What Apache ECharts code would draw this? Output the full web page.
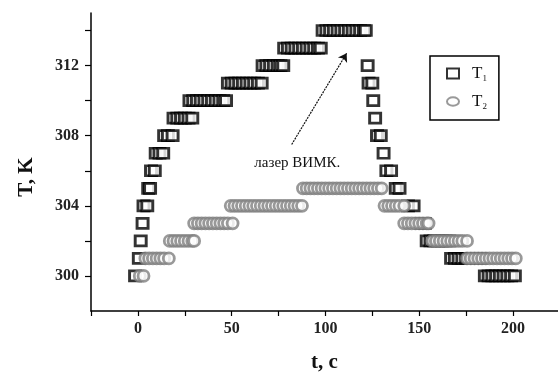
<!DOCTYPE html>
<html>
<head>
<meta charset="utf-8">
<script src="https://cdn.jsdelivr.net/npm/echarts@6/dist/echarts.min.js"></script>
<style>html,body{margin:0;background:#fff}#chart{width:558px;height:378px}</style>
</head>
<body>
<div id="chart"></div>
<script>
// T1: time, s / temperature, K
const t1Time = [-1.5, 0.5, 1.5, 2.5, 3, 5, 5.5, 6.5, 7, 9, 9.5, 11.5, 13.5, 14, 16, 18.5,
  19, 21, 23, 25, 27, 29,
  27.5, 29.5, 31.5, 33.5, 35.5, 37.5, 39.5, 41.5, 43.5, 45.5, 47,
  48, 50, 52, 54, 56, 58, 60, 62, 64, 66,
  66.5, 68.5, 70.5, 72.5, 74.5, 76, 77.5,
  78, 80, 82, 84, 86, 88, 90, 92, 94, 96, 97.5,
  98.5, 100.5, 102.5, 104.5, 106.5, 108.5, 110.5, 112.5, 114.5, 116.5, 118.5, 120.5, 121.5,
  122.5, 123, 125, 125.5, 126.5, 127.5, 129.5, 131, 132.5, 135, 137.5, 139.5, 144, 147, 151, 153,
  154, 156, 158, 160, 162, 164, 166,
  167, 169, 171, 173, 175, 177, 179, 181, 183,
  185, 187, 189, 191, 193, 195, 197, 199, 201];
const t1Temp = [300, 301, 302, 303, 304, 304, 305, 305, 306, 306, 307, 307, 307, 308, 308, 308,
  309, 309, 309, 309, 309, 309,
  310, 310, 310, 310, 310, 310, 310, 310, 310, 310, 310,
  311, 311, 311, 311, 311, 311, 311, 311, 311, 311,
  312, 312, 312, 312, 312, 312, 312,
  313, 313, 313, 313, 313, 313, 313, 313, 313, 313, 313,
  314, 314, 314, 314, 314, 314, 314, 314, 314, 314, 314, 314, 314,
  312, 311, 311, 310, 309, 308, 308, 307, 306, 306, 305, 305, 304, 304, 303, 303,
  302, 302, 302, 302, 302, 302, 302,
  301, 301, 301, 301, 301, 301, 301, 301, 301,
  300, 300, 300, 300, 300, 300, 300, 300, 300];

// T2
const t2Time = [1, 3,
  4, 6, 8, 10, 12, 14, 16.5,
  17, 19, 21, 23, 25, 27, 29, 30,
  30, 32, 34, 36, 38, 40, 42, 44, 46, 48, 50.5,
  49.5, 51.5, 53.5, 55.5, 57.5, 59.5, 61.5, 63.5, 65.5, 67.5, 69.5, 71.5, 73.5, 75.5, 77.5, 79.5, 81.5, 83.5, 85.5, 87.5,
  88, 90, 92, 94, 96, 98, 100, 102, 104, 106, 108, 110, 112, 114, 116, 118, 120, 122, 124, 126, 128, 130,
  131.5, 133.5, 135.5, 137.5, 139.5, 142,
  142, 144, 146, 148, 150, 152, 154, 155,
  157, 159, 161, 163, 165, 167, 169, 171, 173, 175.5,
  175.5, 177.5, 179.5, 181.5, 183.5, 185.5, 187.5, 189.5, 191.5, 193.5, 195.5, 197.5, 199.5, 201.5];
const t2Temp = [300, 300,
  301, 301, 301, 301, 301, 301, 301,
  302, 302, 302, 302, 302, 302, 302, 302,
  303, 303, 303, 303, 303, 303, 303, 303, 303, 303, 303,
  304, 304, 304, 304, 304, 304, 304, 304, 304, 304, 304, 304, 304, 304, 304, 304, 304, 304, 304, 304,
  305, 305, 305, 305, 305, 305, 305, 305, 305, 305, 305, 305, 305, 305, 305, 305, 305, 305, 305, 305, 305, 305,
  304, 304, 304, 304, 304, 304,
  303, 303, 303, 303, 303, 303, 303, 303,
  302, 302, 302, 302, 302, 302, 302, 302, 302, 302,
  301, 301, 301, 301, 301, 301, 301, 301, 301, 301, 301, 301, 301, 301];

const xTicks = [-25, 0, 25, 50, 75, 100, 125, 150, 175, 200];
const xLabels = [0, 50, 100, 150, 200];
const yTicks = [300, 302, 304, 306, 308, 310, 312, 314];
const yLabels = [300, 304, 308, 312];

const serif = 'Liberation Serif';
const pairs = (xs, ys) => xs.map((x, i) => [x, ys[i]]);

const chart = echarts.init(document.getElementById('chart'));
chart.setOption({
  animation: false,
  backgroundColor: '#fff',
  grid: { left: 91, right: 0, top: 13, bottom: 61 },
  xAxis: {
    type: 'value', min: -25, max: 224,
    axisLine: { onZero: false, lineStyle: { color: '#000', width: 1.5 } },
    axisTick: { customValues: xTicks, length: 5, lineStyle: { color: '#000', width: 1.2 } },
    axisLabel: { customValues: xLabels, margin: 10, fontFamily: serif, fontSize: 16, fontWeight: 'bold', color: '#222' },
    splitLine: { show: false },
    name: 't, c', nameLocation: 'middle', nameGap: 41,
    nameTextStyle: { fontFamily: serif, fontSize: 21, fontWeight: 'bold', color: '#111' },
  },
  yAxis: {
    type: 'value', min: 298, max: 315,
    axisLine: { show: true, onZero: false, lineStyle: { color: '#000', width: 1.5 } },
    axisTick: { show: true, customValues: yTicks, length: 6, lineStyle: { color: '#000', width: 1.2 } },
    axisLabel: { customValues: yLabels, margin: 12, fontFamily: serif, fontSize: 16, fontWeight: 'bold', color: '#222' },
    splitLine: { show: false },
    name: 'T, K', nameLocation: 'middle', nameGap: 54,
    nameTextStyle: { fontFamily: serif, fontSize: 21, fontWeight: 'bold', color: '#111', padding: [0, 30, 0, 0] },
  },
  legend: {
    orient: 'vertical', left: 430, top: 56,
    padding: [9, 12, 9, 16], borderColor: '#000', borderWidth: 1.5, borderRadius: 0,
    itemWidth: 12, itemHeight: 10, itemGap: 10,
    data: [
      { name: 'T1', icon: 'rect' },
      { name: 'T2', icon: 'path://M0,5a7,5 0 1,0 14,0a7,5 0 1,0 -14,0' },
    ],
    formatter: (n) => '{t|T}{s|' + n.slice(1) + '}',
    textStyle: {
      padding: [0, 0, 0, 8],
      rich: {
        t: { fontFamily: serif, fontSize: 17, color: '#111', lineHeight: 19 },
        s: { fontFamily: serif, fontSize: 9, color: '#111', verticalAlign: 'bottom', lineHeight: 19, padding: [6, 0, 0, 0] },
      },
    },
  },
  series: [
    {
      name: 'T1', type: 'scatter', symbol: 'rect', symbolSize: [11, 10],
      data: pairs(t1Time, t1Temp),
      itemStyle: { color: '#fff', borderColor: '#000', borderWidth: 2.8 },
      emphasis: { disabled: true }, z: 2,
      markLine: {
        silent: true, symbol: ['none', 'arrow'], symbolSize: 8,
        lineStyle: { color: '#111', width: 1.2, type: [2, 1] },
        label: { show: false },
        data: [[{ coord: [82, 307.5] }, { coord: [111.3, 312.7] }]],
      },
      markPoint: {
        silent: true, symbol: 'rect', symbolSize: 1, itemStyle: { color: 'rgba(0,0,0,0)' },
        label: { show: true, position: 'inside', formatter: 'лазер ВИМК.', fontFamily: serif, fontSize: 15, color: '#111' },
        data: [{ coord: [85, 306.45] }],
      },
    },
    {
      name: 'T2', type: 'scatter', symbol: 'circle', symbolSize: 11,
      data: pairs(t2Time, t2Temp),
      itemStyle: { color: '#fff', borderColor: '#808080', borderWidth: 2.8 },
      emphasis: { disabled: true }, z: 3,
    },
  ],
});
</script>
</body>
</html>
